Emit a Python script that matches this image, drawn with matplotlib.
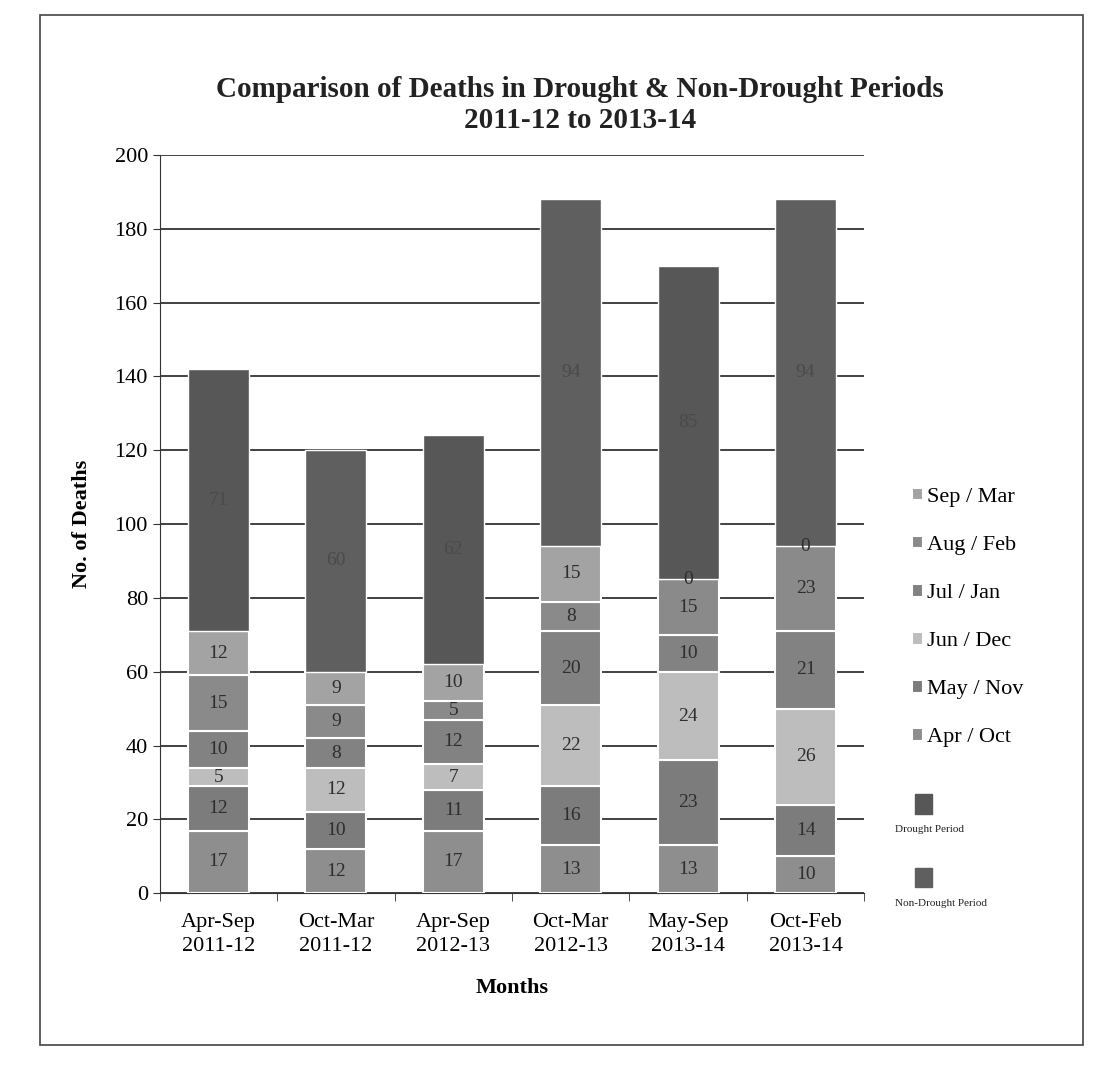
import matplotlib.pyplot as plt
import matplotlib.patches as mpatches
import numpy as np

plt.rcParams['font.family'] = ['Liberation Serif', 'DejaVu Serif']

categories = ['Apr-Sep\n2011-12', 'Oct-Mar\n2011-12', 'Apr-Sep\n2012-13',
              'Oct-Mar\n2012-13', 'May-Sep\n2013-14', 'Oct-Feb\n2013-14']
months = ['Apr / Oct', 'May / Nov', 'Jun / Dec', 'Jul / Jan', 'Aug / Feb', 'Sep / Mar']
month_vals = [
    [17, 12, 17, 13, 13, 10],   # Apr / Oct
    [12, 10, 11, 16, 23, 14],   # May / Nov
    [5, 12, 7, 22, 24, 26],     # Jun / Dec
    [10, 8, 12, 20, 10, 21],    # Jul / Jan
    [15, 9, 5, 8, 15, 23],      # Aug / Feb
    [12, 9, 10, 15, 0, 0],      # Sep / Mar
]
period_vals = [71, 60, 62, 94, 85, 94]
period_type = ['Drought Period', 'Non-Drought Period', 'Drought Period',
               'Non-Drought Period', 'Drought Period', 'Non-Drought Period']

month_colors = ['#8e8e8e', '#7c7c7c', '#bdbdbd', '#828282', '#8a8a8a', '#a3a3a3']
period_colors = {'Drought Period': '#575757', 'Non-Drought Period': '#5f5f5f'}

fig = plt.figure(figsize=(10.94, 10.75), dpi=100)
ax = fig.add_axes([0.146, 0.169, 0.644, 0.687])

x = np.arange(len(categories))
w = 0.52
bottom = np.zeros(len(categories))
handles = []
for vals, name, c in zip(month_vals, months, month_colors):
    bars = ax.bar(x, vals, w, bottom=bottom, color=c, edgecolor='white', linewidth=1.5, label=name, zorder=3)
    for xi, b, v in zip(x, bottom, vals):
        ax.text(xi, b + v / 2, str(v), ha='center', va='center', fontsize=14, color='#2e2e2e', zorder=4)
    handles.append(bars)
    bottom += np.array(vals)

pcols = [period_colors[p] for p in period_type]
ax.bar(x, period_vals, w, bottom=bottom, color=pcols, edgecolor='white', linewidth=1.0, zorder=3)
for xi, b, v in zip(x, bottom, period_vals):
    ax.text(xi, b + v / 2, str(v), ha='center', va='center', fontsize=14, color='#4a4a4a', zorder=4)

ax.set_xlim(-0.5, 5.5)
ax.set_ylim(0, 200)
ax.set_yticks(np.arange(0, 201, 20))
ax.set_xticks(x)
ax.set_xticklabels(categories, fontsize=16, linespacing=1.35)
ax.set_xticks(np.arange(-0.5, 6, 1), minor=True)
ax.tick_params(axis='x', which='major', length=0, pad=14)
ax.tick_params(axis='x', which='minor', length=6, color='#333333')
ax.tick_params(axis='y', labelsize=16, length=5, color='#333333')
ax.yaxis.grid(True, color='#333333', linewidth=1.3, zorder=0)
ax.set_axisbelow(True)
for s in ['top', 'right']:
    ax.spines[s].set_visible(False)
ax.spines['left'].set_color('#333333')
ax.spines['bottom'].set_color('#333333')
ax.set_ylabel('No. of Deaths', fontsize=16, fontweight='bold', labelpad=16)
ax.set_xlabel('Months', fontsize=16, fontweight='bold', labelpad=16)

fig.text(0.53, 0.902, 'Comparison of Deaths in Drought & Non-Drought Periods\n2011-12 to 2013-14',
         ha='center', va='center', fontsize=21, fontweight='bold', linespacing=1.2, color='#222222')

ax.legend(handles[::-1], months[::-1], loc='upper left', bbox_to_anchor=(0.815, 0.565),
          bbox_transform=fig.transFigure, frameon=False, fontsize=16, labelspacing=1.3,
          handlelength=0.5, handleheight=0.5, handletextpad=0.2)

# period entries
for yy, name in [(0.243, 'Drought Period'), (0.175, 'Non-Drought Period')]:
    fig.patches.append(mpatches.Rectangle((0.836, yy), 0.016, 0.018, transform=fig.transFigure,
                                          color=period_colors[name]))
    fig.text(0.818, yy - 0.015, name, fontsize=8, va='center', ha='left', color='#222222')

fig.patches.append(mpatches.Rectangle((0.037, 0.028), 0.953, 0.958, transform=fig.transFigure,
                                      fill=False, edgecolor='#444444', linewidth=1.2))

fig.savefig('out.png', dpi=100)
